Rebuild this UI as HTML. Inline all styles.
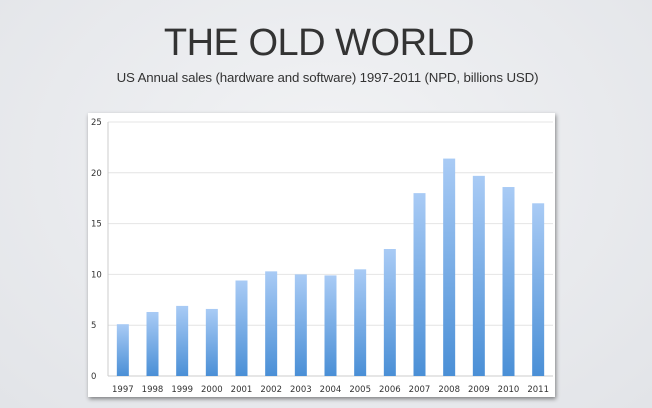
<!DOCTYPE html>
<html><head><meta charset="utf-8"><style>
html,body{margin:0;padding:0}
body{width:652px;height:408px;overflow:hidden;background:radial-gradient(ellipse at 50% 40%,#f2f3f5,#e2e4e8);font-family:"Liberation Sans",sans-serif;position:relative}
#title{position:absolute;top:22px;left:-1px;width:640px;text-align:center;font-size:38px;font-weight:300;color:#333;letter-spacing:-0.5px}
#sub{position:absolute;top:70px;left:0;width:655px;text-align:center;font-size:13.3px;color:#333;letter-spacing:-0.15px}
#panel{position:absolute;left:88px;top:113px;width:467px;height:284px;background:#fff;box-shadow:1px 2px 4px rgba(0,0,0,.45)}
svg{position:absolute;left:0;top:0}
</style></head><body>
<div id="title">THE OLD WORLD</div>
<div id="sub">US Annual sales (hardware and software) 1997-2011 (NPD, billions USD)</div>
<div id="panel"></div>
<svg id="chart" width="652" height="408">
<defs><linearGradient id="g" x1="0" y1="0" x2="0" y2="1"><stop offset="0" stop-color="#a9cbf5"/><stop offset="1" stop-color="#4a8fd6"/></linearGradient></defs>
</svg>
<script>
const categories=["1997","1998","1999","2000","2001","2002","2003","2004","2005","2006","2007","2008","2009","2010","2011"];
const values=[5.1,6.3,6.9,6.6,9.4,10.3,10.0,9.9,10.5,12.5,18.0,21.4,19.7,18.6,17.0];
const yTicks=[0,5,10,15,20,25];
const svg=document.getElementById('chart');const NS='http://www.w3.org/2000/svg';
const x0=108,x1=553,yb=376,yt=122,ymax=25;
const y=v=>yb-(v/ymax)*(yb-yt);
const band=(x1-x0)/categories.length;
const xc=i=>x0+band*(i+0.5);
function mk(t,a){const e=document.createElementNS(NS,t);for(const k in a)e.setAttribute(k,a[k]);svg.appendChild(e);return e;}
yTicks.forEach(t=>{
 const l=mk('line',{x1:x0,x2:x1,y1:y(t),y2:y(t),stroke:t===0?'#ccc':'#e4e4e4','stroke-width':1});
 
 
 const tx=mk('text',{x:91,y:y(t)+3,'font-size':8.5,fill:'#333','font-family':'DejaVu Sans, sans-serif'});
 tx.textContent=t;
 
 
});
const ax=mk('line',{x1:x0,x2:x0,y1:yt,y2:yb,stroke:'#ccc'});


categories.forEach((c,i)=>{
 const r=mk('rect',{x:xc(i)-6,y:y(values[i]),width:12,height:yb-y(values[i]),fill:'url(#g)'});
 
 
 const tx=mk('text',{x:xc(i),y:392,'font-size':8.5,'text-anchor':'middle',fill:'#333','font-family':'DejaVu Sans, sans-serif'});
 tx.textContent=c;
 
 
});
</script>
</body></html>
